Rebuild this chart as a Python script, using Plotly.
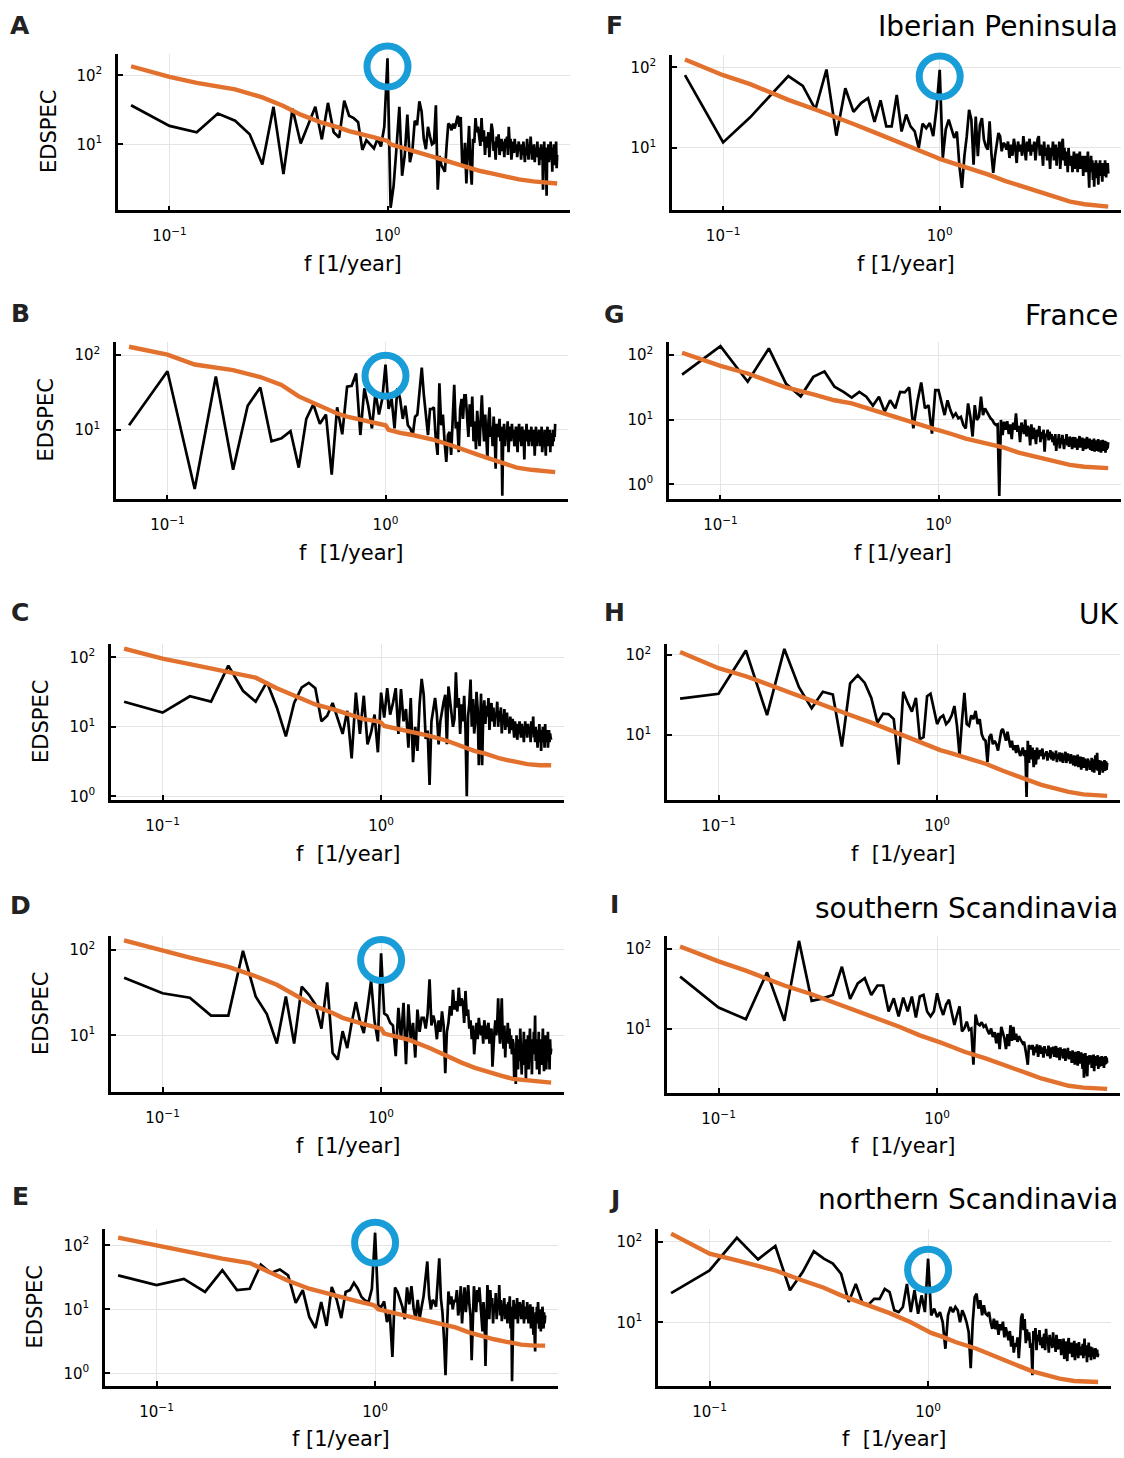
import plotly.graph_objects as go

# ---------------- data ----------------
# frequency grid of the spectra: k/30 1/year, k = 2..180
K = list(range(2, 181))
FREQ = [k / 30 for k in K]

# nodes of the background (red-noise) curves
BG_K = [2, 3, 4, 6, 8, 10, 12, 15, 18, 20, 25, 29, 30, 31, 35, 40, 50, 60, 70, 80, 90, 105, 120, 140, 160, 180]
BG_FREQ = [k / 30 for k in BG_K]

SPEC_A = [37, 18.5, 15, 28, 22, 14, 5.1, 35, 3.7, 33, 10.3, 20, 35, 11.8, 40, 15, 12.5, 43, 26, 24, 21, 8.3, 11.5, 10, 8.7, 12, 9.3, 18, 178,
          1.2, 2.5, 9, 35, 3.5, 7, 27, 5.5, 8, 22, 19, 42, 30, 12, 8.5, 18, 13, 10, 10.5, 37,
          2.2, 6.8, 5, 4.5, 4, 9.5, 20, 19, 16, 20, 17, 21, 26, 18, 25, 5.4, 4.8, 10.5, 2.7, 7.5,
          18.5, 5, 2.6, 12, 10.5, 24, 15, 18, 12, 9.5,
          24, 11, 16, 7, 13, 9, 15, 6.5, 12, 20, 16, 8, 11, 6, 13, 9, 14, 7, 10, 12,
          8, 11, 6.5, 12, 9, 13, 7, 18, 10, 12, 6, 9, 11, 7.5, 12, 8, 10, 6.5, 9, 11,
          8, 9.5, 6, 10, 7, 11, 8, 5.5, 9, 7, 12, 8, 6, 10, 7.5, 13, 8, 6, 9, 7, 10, 5.5, 8, 9, 6.5, 11, 7, 8, 5, 9,
          7, 10, 6, 9, 2.2, 8, 11, 5, 9, 7, 1.8, 8, 6, 10, 5.5, 9, 7, 11, 6, 8, 4, 9, 7, 10, 5, 8, 6.5, 11, 4.5, 7]

SPEC_B = [11.5, 61, 1.6, 52, 2.9, 21, 37, 7, 7.7, 9.6, 3.1, 14, 22, 12, 16, 2.5, 20, 8.7, 38, 39, 57, 8.5, 36, 21, 10.4, 32, 16, 26, 75,
          19, 26, 10.4, 36, 26, 14, 21, 11.5, 10.4, 8.5, 15, 16, 36, 68, 29, 16, 8.5, 19, 19, 20,
          7.6, 4.6, 42, 11.5, 16, 6.9, 3.7, 8.5, 9.4, 4.6, 19, 40, 10.4, 12.8, 5, 19, 26, 14, 29, 29,
          15, 8, 22, 11, 28, 7, 13, 5.5, 18, 10, 6, 14, 29, 12, 7, 16, 9, 4, 13, 20, 8, 11, 6, 15, 9, 3, 12, 8, 10, 14,
          7, 11, 1.3, 9, 12, 6, 10, 8, 13, 5, 9, 11, 7, 12, 8, 10, 6, 9, 11, 8,
          5, 9, 12, 7, 10, 6, 11, 8, 9, 4, 10, 7, 12, 8, 9, 6, 10, 7, 8, 11, 6, 9, 7, 10, 4.5, 8, 11, 6, 9, 7,
          8, 10, 6, 9, 7, 11, 5, 8, 9, 6, 10, 7, 4.5, 9, 8, 11, 6, 8, 7, 10, 5, 9, 7, 8, 6, 10, 7, 9, 8, 12]

SPEC_C = [23, 16, 27.5, 23, 76, 33, 23, 44, 19, 7.3, 22, 37, 43, 36, 12, 14.4, 22, 13, 7.9, 17, 3.5, 31, 7.9, 28, 5.6, 8.3, 15, 4.3, 31,
          13.6, 36, 15, 22, 36, 7.9, 35, 12, 18, 5, 26, 3.1, 10, 4.5, 21, 49, 29, 6.7, 8.8, 1.45,
          12, 17, 26, 15, 5.6, 12, 18, 23, 29, 5.6, 38, 23, 15, 10, 13, 61, 19, 26, 7.9, 21,
          12, 28, 9, 1.0, 14, 22, 48, 10, 25, 8,
          12, 32, 18, 2.8, 9, 30, 2.8, 15, 24, 11, 20, 14, 26, 9, 17, 22, 12, 19, 10, 16,
          14, 23, 10, 17, 12, 19, 8, 15, 11, 18, 9, 13, 16, 10, 12, 8, 14, 11, 9, 13,
          10, 7, 12, 9, 11, 6.5, 10, 8, 12, 9, 7, 11, 8.5, 10, 6, 9, 12, 8, 10, 7, 11, 9, 8, 10, 6, 12, 8, 9, 14, 7,
          9, 6, 10, 7, 8, 5, 9, 7, 11, 6, 8, 4.5, 9, 7, 10, 6, 8, 5, 11, 7, 9, 6, 8, 5, 7, 9, 6, 8, 7, 6.5]

SPEC_D = [47, 31, 27.5, 17, 17, 97, 28.5, 17.7, 8, 28.5, 8, 37, 30, 23, 12, 41.6, 6.2, 5.2, 11.2, 7.1, 14, 24.5, 14.6, 10.6, 21, 43.5, 14.6, 8.5, 91,
          18, 17, 14, 13, 5.7, 21, 9, 24, 4.6, 23, 9, 14, 5.5, 20, 11, 16, 16, 12, 18, 45,
          13, 17, 14, 9, 15, 11, 19, 13, 3.6, 11,
          14, 22, 17, 34, 20, 25, 19, 36, 22, 27, 24, 14, 33, 17, 20, 12, 15, 9, 13, 6,
          11, 14, 9, 16, 12, 10, 13, 8, 15, 11, 9, 12, 14, 8, 10, 12, 4.3, 9, 11, 15,
          10, 14, 27, 12, 8, 15, 27, 10, 7, 13, 5.5, 11, 9, 14, 8, 12, 7, 10, 6, 9,
          8, 3, 7, 2.7, 10, 6, 4, 9, 5, 12, 6, 3.5, 8, 5, 11, 4.5, 7, 3, 9, 6, 10, 4, 7, 12, 5, 8, 3.5, 9, 6, 11,
          7, 17, 5, 9, 4, 8, 6, 11, 3.5, 7, 5, 9, 4.5, 8, 12, 6, 3.8, 9, 5, 10, 4, 7, 6, 11, 5, 8, 4, 9, 6, 7]

SPEC_E = [34, 24, 30, 18.7, 41, 20, 21, 50, 37, 42, 34, 12.6, 20, 7.6, 5.1, 13, 5.5, 22.3, 14.3, 7.3, 18.7, 20, 26, 21, 15.6, 13.8, 13, 21, 158,
          11.5, 10.9, 13.3, 6.3, 9.1, 1.8, 22, 18.7, 14.7, 10.9,
          7, 22, 12, 23, 10.5, 7, 14, 7.3, 11, 16, 30, 56, 16, 10, 14, 13, 11, 28, 63, 15,
          9, 3.5, 0.93, 5, 19, 12, 16, 10, 14, 13, 20, 8, 11, 23, 6, 13, 22, 9, 17, 24,
          12, 8, 1.6, 10, 23, 14, 9, 20, 13, 22, 11, 6, 4.5, 13, 8, 1.3, 10, 24, 14, 7,
          20, 11, 15, 6, 12, 9, 18, 7, 13, 10, 24, 8, 14, 6.5, 11, 9, 15, 7, 12, 10,
          6, 13, 9, 16, 5, 11, 0.75, 8, 14, 10, 7, 12, 9, 15, 6, 11, 8, 13, 10, 7, 12, 9, 14, 6, 10, 8, 11, 7, 13, 9,
          6, 10, 8, 12, 5, 9, 7, 11, 4, 8, 3, 2.2, 9, 6, 11, 7, 13, 8, 5, 10, 7, 4.5, 9, 6, 11, 7, 5, 9, 6, 8]

SPEC_F = [80, 11.7, 24, 45.5, 78, 59, 30, 94, 14.2, 55, 28, 36, 41.5, 21, 39, 18.5, 18.5, 45.5, 16, 26, 18.5, 16, 10, 20, 17.6, 20.4, 14, 31, 93,
          7.5, 17, 22.4, 17.6, 13.3, 16, 5.9, 3.2, 7.9, 14, 29.7, 22.4, 6.2, 24.5, 7.9, 19.4, 23.5, 12.7, 10.5, 9.5,
          21.4, 8.3, 4.9, 7.9, 10.5, 15.3, 14, 9.1, 11.5, 11,
          9.5, 12, 7.5, 11, 8, 13, 10, 6.5, 12, 9, 11, 8, 14, 10, 7, 12, 9, 13, 8, 11,
          9, 12, 7, 10, 13, 14, 8, 11, 9, 6, 12, 8, 10, 7, 11, 9, 5.5, 10, 8, 12,
          7, 9, 11, 6, 10, 8, 12, 5.5, 9, 11, 13, 7, 10, 6, 8, 9, 5, 10, 7, 8,
          6, 8, 5, 7.5, 9, 5.5, 7, 6, 8.5, 5, 7, 6.5, 9, 5.5, 8, 6, 7, 4.5, 8, 6, 7.5, 5, 8, 6, 9, 5, 3.2, 7, 6, 8,
          5, 7, 4, 6.5, 3.3, 6, 5, 7, 4.2, 6, 5.5, 3.5, 6.5, 5, 7, 4.5, 6, 5, 3.8, 6.5, 5, 6, 4.5, 7, 5.5, 4.3, 6, 5, 6.5, 4.8]

SPEC_G = [50, 138, 38.7, 127, 36, 23, 46, 56, 32.4, 27, 22, 27, 22.7, 16.5, 22.7, 13.3, 20, 15, 27, 26.5, 31.6, 7.35, 19, 37.7, 15, 16.8, 6.1, 28.7, 28.7,
          19, 11.8, 20, 14.1, 11.1, 12.5, 10.5, 11.1, 8.3, 7.35, 17.9, 11.1, 5.5, 16.8, 9.9, 11.1, 22.7, 11.8, 15, 13,
          11.8, 10.5, 9.9, 8.8, 8.3, 8.5, 0.66, 9.9, 5.8, 9.3,
          7, 9.5, 6, 8.5, 5, 9, 7, 12.5, 6.5, 8, 4.5, 9, 7, 6, 10, 5.5, 8, 7, 4, 8.5,
          5, 7.5, 6, 4.2, 7, 5.5, 8, 4.5, 6.5, 5, 7, 3.2, 6, 5.5, 7, 4.8, 6.5, 5, 6, 4.5,
          5.5, 4, 6, 3.3, 5, 4.5, 6, 3.6, 5.2, 4.2, 5.8, 4.8, 3.5, 5, 4.4, 6, 4, 5, 3.8, 5.5,
          4.2, 5.2, 3.5, 5.4, 4.3, 3.7, 5.4, 3.9, 4.9, 3.4, 5.1, 4.1, 5.6, 3.7, 4.7, 3.8, 5.3, 3.3, 4.9, 4, 5.1, 3.5, 4.6, 5.4, 3.6, 4.8, 3.8, 5.1, 3.4, 4.6,
          4.9, 3.3, 4.6, 3.7, 5.1, 3.2, 4.4, 4.8, 3.3, 4.7, 3.6, 5, 3.2, 4.5, 3.5, 4.8, 3.1, 4.3, 3.6, 4.9, 3.3, 4.4, 3.7, 4.7, 3.1, 4.6, 3.4, 4.3, 3.6, 4.5]

SPEC_H = [28.4, 32.7, 113, 17.7, 118, 39.5, 21.5, 34.6, 32, 7.2, 43.9, 55.6, 44.6, 29, 14.3, 18.5, 18.2, 15.8, 4.3, 34.6, 25.3, 19.6, 29, 8.9, 9.4, 30.5, 32.7, 20, 13.7,
          16.5, 17.6, 13.7, 15, 17.6, 23, 13, 5.6, 15, 33.6, 13.7, 13, 17.6, 15.8, 20, 13.7, 15.8, 10.3, 8.9, 8.5,
          4.6, 9.4, 10.3, 7.7, 8.5, 7.7, 6.4, 8.9, 11.3, 11.9,
          10, 8.5, 11, 9, 7, 8.5, 6.5, 7.5, 6, 7.5, 6.5, 5.5, 6, 7, 5.5, 6.5, 1.7, 8.5, 4.5, 7.5,
          5, 7, 4, 6.5, 4.3, 7, 5, 6, 6.5, 5.5, 6.8, 5, 6, 5.5, 6.3, 4.8, 6, 5.3, 6.5, 5,
          6.2, 4.8, 5.9, 5.1, 6.4, 4.6, 5.8, 5, 6.1, 4.7, 5.7, 6, 4.5, 5.7, 4.9, 6.2, 4.5, 5.6, 5.9, 4.8,
          5.6, 4.4, 5.8, 4.6, 5.4, 4.2, 5.6, 4.7, 4.1, 5.5, 4.5, 5.7, 4, 5.2, 4.4, 5.4, 3.7, 5, 4.3, 5.3, 3.9, 5.1, 4.2, 4.9, 3.6, 4.8, 5.1, 4, 4.7, 3.7,
          4.8, 3.9, 5.2, 3.5, 4.6, 5, 3.4, 4.5, 5.6, 3.7, 4.7, 6, 3.6, 4.4, 4.9, 3.2, 4.5, 4.8, 3.7, 4.3, 4.7, 3.4, 4.6, 3.8, 4.9, 3.6, 4.4, 4.7, 3.7, 4.5]

SPEC_I = [45, 18.4, 13.1, 51, 12.5, 127, 22.3, 24, 26.5, 60, 23.6, 37, 43, 26.5, 34.8, 34.8, 16.4, 24, 14.2, 24.5, 16.4, 25.3, 13.8, 25.3, 26.5, 16.4, 14.2, 16.4, 27.8,
          19, 14.8, 20, 23, 15.6, 11.1, 14.8, 19, 9.2, 10.1, 12.2, 9.6, 10, 3.5, 15, 11.5, 11, 12, 10.5, 11,
          9.5, 8.5, 10, 7.8, 9, 6.5, 8.8, 5.5, 10.5, 9,
          7.5, 5.5, 8.5, 6, 11, 7, 10.5, 7.2, 8.6, 6.8, 8, 7.4, 7, 6.5, 6.8, 5.8, 4.5, 3.5, 6.2, 5.8,
          5.5, 6.2, 4.6, 5.9, 5, 6.3, 4.4, 5.6, 6.1, 4.8, 5.8, 4.3, 6, 4.9, 5.5, 4.5, 6.1, 5, 4.2, 5.8,
          4.8, 5.9, 4.4, 5.5, 6, 4.3, 5.3, 5.7, 4, 5.8, 4.6, 5.5, 4.2, 5.2, 5.6, 3.9, 5.4, 4.5, 5.7, 4.1,
          5.2, 4.2, 5.1, 3.7, 5.3, 4, 4.8, 3.5, 5.1, 4.1, 4.9, 3.4, 5.2, 3.9, 4.7, 3.6, 5, 4, 3.1, 4.8, 2.4, 3.3, 4.9, 3.8, 3, 2.5, 4.5, 3.5, 4.6, 3.9,
          3.7, 4.6, 3.2, 4.4, 3.5, 4.7, 2.9, 4.3, 3.6, 4.5, 3.4, 4.2, 4.6, 3.1, 4.1, 4.4, 3.3, 4.3, 3.6, 4.5, 3.4, 4.1, 4.4, 3.2, 4.2, 3.5, 4.5, 3.6, 4.3, 3.7]

SPEC_J = [23, 44, 112, 60.5, 88.5, 25, 42, 76, 61.6, 53.5, 40, 17.9, 30, 17.5, 16.6, 19.6, 19.6, 26, 23.7, 14.1, 13.4, 15.5, 30, 13.4, 25, 12.8, 21.6, 13.4, 61.6,
          12.2, 14.8, 11.6, 13.4, 10, 4.7, 12.2, 15.5, 13.4, 15.5, 14.1, 10, 14.1, 12.2, 10, 7.6, 2.7, 10, 20.6, 22.7,
          14.8, 18.8, 12.2, 16.3, 12.8, 12.2, 13.4, 10, 8.3, 11.1,
          8.2, 10.5, 7, 9.5, 8, 10.2, 6.5, 8.7, 7.2, 6, 7.8, 5, 6.8, 4.2, 5.5, 5, 6.5, 3.6, 6, 11.5,
          12.8, 8, 11, 5.5, 8.2, 6, 7.5, 4.8, 5.5, 2.2, 7.8, 6, 8.5, 4.5, 7, 5.8, 8, 5.2, 6.5, 4.8,
          6, 7.2, 4.5, 8.3, 5.5, 6.5, 4.2, 7, 5.2, 6.3, 4.8, 7.5, 5, 6, 4.3, 7, 5.6, 4.6, 6.2, 5.1,
          6.2, 3.9, 5.5, 4.7, 6.3, 3.5, 5.2, 4.5, 5.8, 3.3, 5.4, 6.4, 4.1, 5, 4.6, 5.6, 3.7, 5.3, 4.4, 5.9, 3.4, 4.9, 5.5, 4.2, 5.1, 3.6, 5.7, 4.5, 4.9, 3.9,
          5, 4.3, 5.4, 3.6, 4.8, 6.3, 3.9, 4.6, 5.2, 3.2, 4.7, 4.1, 5.6, 3.7, 4.4, 5, 3.4, 4.5, 4.9, 3.8, 4.3, 4.7, 3.5, 4.4, 4.8, 3.9, 4.2, 4.6, 3.7, 4.1]

BG_A = [136, 95, 78, 63, 48, 36, 27, 20.6, 17.5, 15.6, 13, 11.6, 11.2, 10, 9, 8, 6.4, 5.4, 4.6, 4.1, 3.8, 3.4, 3.1, 2.9, 2.8, 2.7]
BG_B = [130, 102, 75, 63, 51, 40, 28, 21, 16.5, 15, 12.8, 11.8, 11.5, 10, 9.1, 8.5, 7.3, 6.2, 5.2, 4.6, 4.1, 3.5, 3.1, 2.9, 2.8, 2.7]
BG_C = [133, 96, 80, 62, 51, 36, 28, 21, 18, 16, 12.9, 12, 11.5, 10.3, 9.5, 8.8, 7.4, 6.3, 5.2, 4.5, 4.1, 3.5, 3.2, 2.9, 2.8, 2.8]
BG_D = [129, 97, 81, 63, 49, 39, 30, 21.8, 18.2, 16, 13.5, 12.2, 12, 10.5, 9.7, 8.9, 7.1, 5.7, 4.8, 4.2, 3.8, 3.4, 3.1, 3.0, 2.85, 2.8]
BG_E = [132, 100, 79, 62, 53, 38, 28, 21, 17.6, 16.2, 13.3, 11.8, 11.3, 10, 9.1, 8.3, 7.0, 6.0, 5.2, 4.4, 3.9, 3.4, 3.1, 2.8, 2.7, 2.7]
BG_F = [125, 80, 62, 39.5, 30, 23.5, 19.8, 15.6, 12.9, 11.5, 9.1, 7.6, 7.3, 7.1, 6.4, 5.7, 4.7, 3.9, 3.4, 3.0, 2.7, 2.4, 2.15, 2.0, 1.9, 1.87]
BG_G = [109, 68, 52, 31.6, 24.6, 20, 17.9, 14.1, 11.6, 10.2, 8.3, 7.1, 6.9, 6.7, 5.9, 5.1, 4.3, 3.7, 3.1, 2.8, 2.5, 2.2, 2.0, 1.87, 1.8, 1.78]
BG_H = [108, 68, 54, 35.5, 27, 21.5, 17.8, 14.3, 11.7, 10.3, 8.2, 7.0, 6.7, 6.5, 5.9, 5.3, 4.4, 3.6, 3.1, 2.7, 2.4, 2.15, 1.96, 1.83, 1.77, 1.75]
BG_I = [108, 70, 53.5, 34.8, 27, 21.5, 18, 14.4, 11.9, 10.6, 8.2, 7.2, 6.9, 6.7, 5.9, 5.1, 4.2, 3.55, 3.0, 2.65, 2.35, 2.1, 1.9, 1.8, 1.74, 1.74]
BG_J = [126, 71, 58.6, 44, 33, 26.9, 21.6, 17.4, 14.5, 13, 10, 8.1, 7.7, 7.4, 6.6, 5.7, 4.7, 3.8, 3.2, 2.8, 2.46, 2.2, 2.0, 1.87, 1.82, 1.82]

# annual-cycle peaks that are circled (f = 1 / year)
PEAK_F = 1.0
PEAK_A, PEAK_B, PEAK_D, PEAK_E, PEAK_F_, PEAK_J = 135, 53, 76, 110, 77, 45

LETTERS = ["A", "B", "C", "D", "E", "F", "G", "H", "I", "J"]
REGIONS = ["", "", "", "", "", "Iberian Peninsula", "France", "UK", "southern Scandinavia", "northern Scandinavia"]
XLABELS = ["f [1/year]", "f  [1/year]", "f  [1/year]", "f  [1/year]", "f [1/year]",
           "f [1/year]", "f [1/year]", "f  [1/year]", "f  [1/year]", "f  [1/year]"]
YLABEL = "EDSPEC"
XTICKS = [0.1, 1]
XTICKTEXT = ["10<sup>−1</sup>", "10<sup>0</sup>"]
YTICKS = [1, 10, 100]
YTICKTEXT = ["10<sup>0</sup>", "10<sup>1</sup>", "10<sup>2</sup>"]

SPECS = [SPEC_A, SPEC_B, SPEC_C, SPEC_D, SPEC_E, SPEC_F, SPEC_G, SPEC_H, SPEC_I, SPEC_J]
BGS = [BG_A, BG_B, BG_C, BG_D, BG_E, BG_F, BG_G, BG_H, BG_I, BG_J]
PEAKS = [PEAK_A, PEAK_B, None, PEAK_D, PEAK_E, PEAK_F_, None, None, None, PEAK_J]

# ---------------- layout (pixels) ----------------
W, H = 1124, 1458
FONT = "DejaVu Sans"
BLACK = "#000000"
ORANGE = "#E2712D"
BLUE = "#189DD8"

# plot boxes: x0, x1, ytop, ybottom
BOXES = [(118, 570, 54, 211), (116, 568, 343, 501), (111, 564, 646, 803), (111, 564, 939, 1096), (105, 558, 1233, 1391),
         (672, 1121, 55, 211), (669, 1121, 343, 501), (667, 1120, 646, 803), (667, 1120, 939, 1097), (658, 1111, 1233, 1391)]
YRANGES = [(0.043, 2.314), (0.067, 2.18), (-0.057, 2.195), (0.335, 2.163), (-0.203, 2.26),
           (0.226, 2.156), (-0.232, 2.206), (0.189, 2.136), (0.185, 2.168), (0.207, 2.161)]
XRANGE = (-1.236, 0.837)
LETTER_POS = [(20, 26), (20, 315), (20, 615), (20, 909), (20, 1201),
              (614, 26), (614, 316), (614, 615), (614, 908), (614, 1204)]
REGION_Y = [None, None, None, None, None, 27, 317, 617, 912, 1204]
XLAB_POS = [(353, 265), (351, 555), (348, 857), (348, 1150), (341, 1444),
            (906, 265), (903, 555), (903, 857), (903, 1150), (894, 1444)]
YLAB_X = [49, 46, 41, 41, 35]

fig = go.Figure()
layout = dict(width=W, height=H, autosize=False, margin=dict(l=0, r=0, t=0, b=0),
              paper_bgcolor="white", plot_bgcolor="white", showlegend=False,
              font=dict(family=FONT, color="black"))
annotations = []

for i in range(10):
    n = i + 1
    xa = "x" if n == 1 else f"x{n}"
    ya = "y" if n == 1 else f"y{n}"
    x0, x1, yt, yb = BOXES[i]
    fig.add_trace(go.Scatter(x=FREQ, y=SPECS[i], mode="lines", line=dict(color=BLACK, width=2.7),
                             xaxis=xa, yaxis=ya, hoverinfo="skip"))
    fig.add_trace(go.Scatter(x=BG_FREQ, y=BGS[i], mode="lines", line=dict(color=ORANGE, width=4.4),
                             xaxis=xa, yaxis=ya, hoverinfo="skip"))
    if PEAKS[i] is not None:
        fig.add_trace(go.Scatter(x=[PEAK_F], y=[PEAKS[i]], mode="markers", cliponaxis=False,
                                 marker=dict(symbol="circle-open", size=41, color=BLUE,
                                             line=dict(width=7, color=BLUE)),
                                 xaxis=xa, yaxis=ya, hoverinfo="skip"))
    common = dict(type="log", showline=True, linecolor="black", linewidth=2.5,
                  showgrid=True, gridcolor="#e4e4e4", gridwidth=1, zeroline=False,
                  ticks="inside", ticklen=5, tickwidth=1.5, tickcolor="black",
                  tickfont=dict(family=FONT, size=15, color="black"), fixedrange=True)
    layout["xaxis" if n == 1 else f"xaxis{n}"] = dict(
        common, range=list(XRANGE), domain=[x0 / W, x1 / W], anchor=ya,
        tickvals=XTICKS, ticktext=XTICKTEXT, ticklabelstandoff=10)
    layout["yaxis" if n == 1 else f"yaxis{n}"] = dict(
        common, range=list(YRANGES[i]), domain=[1 - yb / H, 1 - yt / H], anchor=xa,
        tickvals=YTICKS, ticktext=YTICKTEXT, ticklabelstandoff=10)

    lx, ly = LETTER_POS[i]
    annotations.append(dict(text=f"<b>{LETTERS[i]}</b>", x=lx / W, y=1 - ly / H, xref="paper", yref="paper",
                            showarrow=False, xanchor="center", yanchor="middle",
                            font=dict(family=FONT, size=25, color="#222222")))
    if REGIONS[i]:
        annotations.append(dict(text=REGIONS[i], x=1120 / W, y=1 - REGION_Y[i] / H, xref="paper", yref="paper",
                                showarrow=False, xanchor="right", yanchor="middle",
                                font=dict(family=FONT, size=28, color="black")))
    tx, ty = XLAB_POS[i]
    annotations.append(dict(text=XLABELS[i], x=tx / W, y=1 - ty / H, xref="paper", yref="paper",
                            showarrow=False, xanchor="center", yanchor="middle",
                            font=dict(family=FONT, size=21, color="black")))
    if i < 5:
        annotations.append(dict(text=YLABEL, x=YLAB_X[i] / W, y=1 - (yt + yb) / 2 / H, xref="paper", yref="paper",
                                showarrow=False, xanchor="center", yanchor="middle", textangle=-90,
                                font=dict(family=FONT, size=21, color="black")))

layout["annotations"] = annotations
fig.update_layout(**layout)
fig.write_html("out.html")
